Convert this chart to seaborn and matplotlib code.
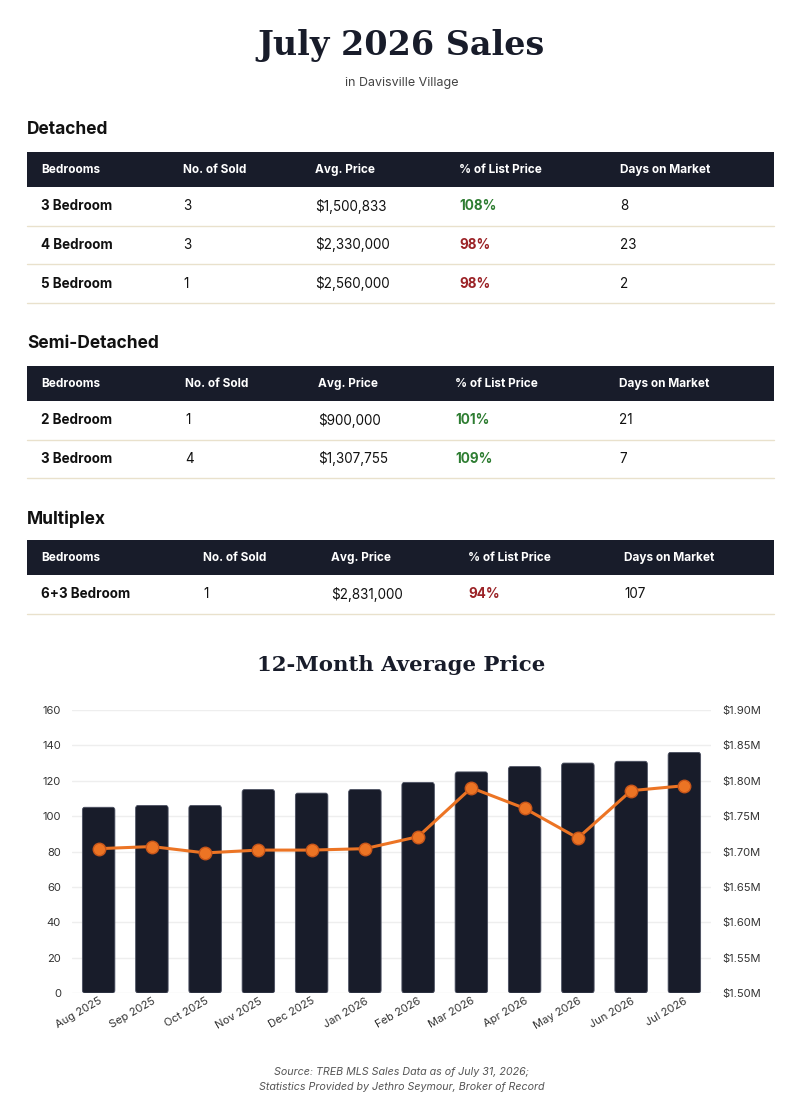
import numpy as np
import pandas as pd
import seaborn as sns
import matplotlib.pyplot as plt
from matplotlib.patches import Rectangle, FancyBboxPatch
from matplotlib.ticker import FuncFormatter

# Données des tableaux
headers = ["Bedrooms", "No. of Sold", "Avg. Price", "% of List Price", "Days on Market"]

detached_rows = [
    ["3 Bedroom", "3", "$1,500,833", "108%", "8"],
    ["4 Bedroom", "3", "$2,330,000", "98%", "23"],
    ["5 Bedroom", "1", "$2,560,000", "98%", "2"],
]
semi_rows = [
    ["2 Bedroom", "1", "$900,000", "101%", "21"],
    ["3 Bedroom", "4", "$1,307,755", "109%", "7"],
]
multiplex_rows = [
    ["6+3 Bedroom", "1", "$2,831,000", "94%", "107"],
]

# Données du graphique 12 mois
months = ["Aug 2025", "Sep 2025", "Oct 2025", "Nov 2025", "Dec 2025", "Jan 2026",
          "Feb 2026", "Mar 2026", "Apr 2026", "May 2026", "Jun 2026", "Jul 2026"]
sold_counts = [105, 106, 106, 115, 113, 115, 119, 125, 128, 130, 131, 136]
avg_prices = [1.704, 1.707, 1.698, 1.702, 1.702, 1.704, 1.721, 1.790, 1.761, 1.719, 1.786, 1.793]

NAVY = "#181c2a"
ORANGE = "#ec7424"
GREEN = "#2e7d32"
RED = "#9b2226"
LINE = "#e9e1cc"
SANS = ["Inter", "DejaVu Sans"]
SERIF = ["DejaVu Serif"]

sns.set_theme(style="white")
plt.rcParams["font.family"] = SANS

W, H = 803, 1116
fig = plt.figure(figsize=(W / 100, H / 100), dpi=100)
bg = fig.add_axes([0, 0, 1, 1])
bg.set_xlim(0, W)
bg.set_ylim(H, 0)
bg.axis("off")

# Titre
bg.text(W / 2, 46, "July 2026 Sales", ha="center", va="center", fontsize=24,
        fontweight="bold", family=SERIF, color=NAVY)
bg.text(W / 2, 83, "in Davisville Village", ha="center", va="center", fontsize=9, color="#444444")


def draw_table(title, title_y, top, rows, col_x):
    bg.text(27, title_y, title, ha="left", va="center", fontsize=12.5, fontweight="bold", color="#111111")
    bg.add_patch(Rectangle((27, top), 747, 35, color=NAVY, lw=0))
    for x, h in zip(col_x, headers):
        bg.text(x, top + 18, h, ha="left", va="center", fontsize=8.5, fontweight="bold", color="white")
    y = top + 35
    for r in rows:
        cy = y + 19.5
        for j, (x, v) in enumerate(zip(col_x, r)):
            weight = "bold" if j in (0, 3) else "normal"
            color = "#111111"
            if j == 3:
                color = GREEN if int(v.rstrip("%")) >= 100 else RED
            bg.text(x, cy, v, ha="left", va="center", fontsize=9.7, fontweight=weight, color=color)
        y += 38.5
        bg.plot([27, 774], [y, y], color=LINE, lw=1)


draw_table("Detached", 130, 152, detached_rows, [41, 183, 315, 459, 620])
draw_table("Semi-Detached", 344, 366, semi_rows, [41, 185, 318, 455, 619])
draw_table("Multiplex", 519, 540, multiplex_rows, [41, 203, 331, 468, 624])

# Graphique
bg.text(W / 2, 665, "12-Month Average Price", ha="center", va="center", fontsize=15.3,
        fontweight="bold", family=SERIF, color=NAVY)

ax = fig.add_axes([72 / W, (H - 993) / H, (711 - 72) / W, (993 - 710) / H])
df = pd.DataFrame({"Month": months, "Sold": sold_counts, "Price": avg_prices})
sns.barplot(data=df, x="Month", y="Sold", color=NAVY, width=0.61, ax=ax, saturation=1)

# coins arrondis pour les barres
for p in list(ax.patches):
    x0, y0, w, h = p.get_x(), p.get_y(), p.get_width(), p.get_height()
    p.set_visible(False)
    ax.add_patch(FancyBboxPatch((x0, y0), w, h, boxstyle="round,pad=0,rounding_size=0.04",
                                mutation_aspect=40, fc=NAVY, ec="#4a4f60", lw=0.6, zorder=2))

ax.set_ylim(0, 160)
ax.set_yticks(range(0, 161, 20))
ax.set_xlim(-0.5, 11.5)
ax.grid(axis="y", color="#eeeeee", lw=1)
ax.set_axisbelow(True)
for s in ax.spines.values():
    s.set_visible(False)
ax.set_xlabel("")
ax.set_ylabel("")
ax.tick_params(axis="y", labelsize=8, colors="#333333", pad=8, length=0)
ax.tick_params(axis="x", labelsize=8, colors="#333333", pad=2, length=0)
for lab in ax.get_xticklabels():
    lab.set_rotation(30)
    lab.set_ha("right")
    lab.set_rotation_mode("anchor")

ax2 = ax.twinx()
sns.lineplot(x=np.arange(len(months)), y=avg_prices, ax=ax2, color=ORANGE, lw=2.2,
             marker="o", markersize=9, markerfacecolor=ORANGE, markeredgecolor="#c8561a",
             markeredgewidth=1)
ax2.set_ylim(1.5, 1.9)
ax2.set_yticks(np.arange(1.5, 1.91, 0.05))
ax2.yaxis.set_major_formatter(FuncFormatter(lambda v, p: f"${v:.2f}M"))
ax2.set_xlim(-0.5, 11.5)
for s in ax2.spines.values():
    s.set_visible(False)
ax2.tick_params(axis="y", labelsize=8, colors="#333333", pad=8, length=0)
ax2.grid(False)

# Source
bg.text(W / 2, 1072, "Source: TREB MLS Sales Data as of July 31, 2026;", ha="center", va="center",
        fontsize=7.7, style="italic", color="#555555")
bg.text(W / 2, 1087, "Statistics Provided by Jethro Seymour, Broker of Record", ha="center",
        va="center", fontsize=7.7, style="italic", color="#555555")

fig.savefig("out.png", dpi=100)
